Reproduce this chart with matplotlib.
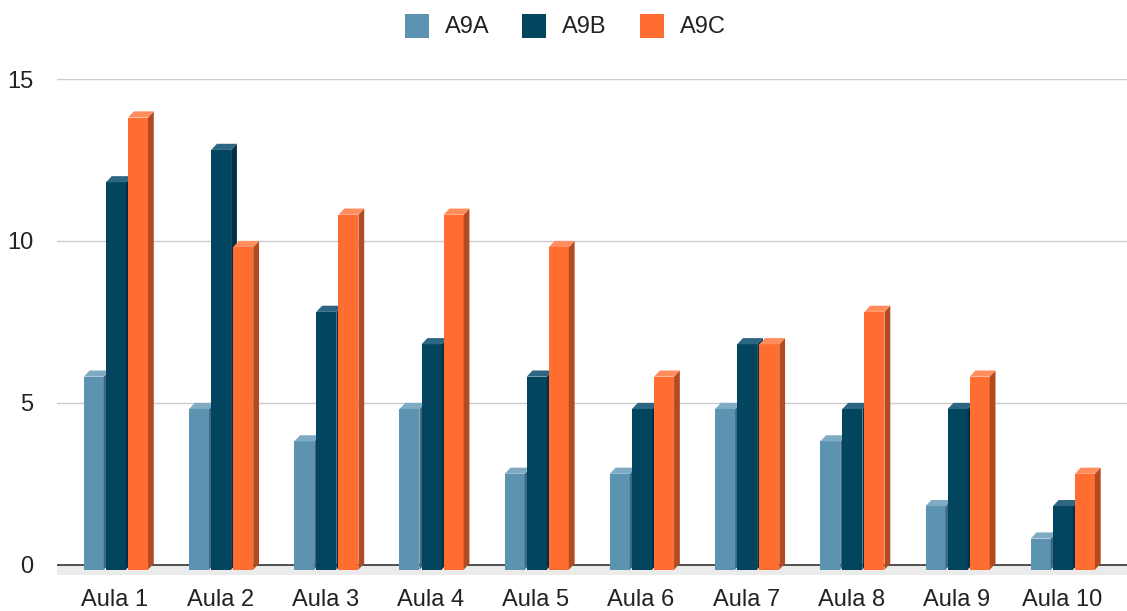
import matplotlib.pyplot as plt
from matplotlib.patches import Polygon, Rectangle

categories = ['Aula 1', 'Aula 2', 'Aula 3', 'Aula 4', 'Aula 5',
              'Aula 6', 'Aula 7', 'Aula 8', 'Aula 9', 'Aula 10']
a9a = [6, 5, 4, 5, 3, 3, 5, 4, 2, 1]
a9b = [12, 13, 8, 7, 6, 5, 7, 5, 5, 2]
a9c = [14, 10, 11, 11, 10, 6, 7, 8, 6, 3]
series_names = ['A9A', 'A9B', 'A9C']
y_ticks = [0, 5, 10, 15]

# front, side, top colours for each series
colors = {
    'A9A': ('#5b93b1', '#3e6880', '#7eaac3'),
    'A9B': ('#03445f', '#022f43', '#2c6682'),
    'A9C': ('#ff6d31', '#b34b21', '#ff8d5e'),
}

W = 0.19        # bar front width (category units)
DX = 0.055      # 3d depth in x
DY = 0.19       # 3d depth in y
BOT = -0.15     # bottom of front faces
OFFS = [-0.295, -0.085, 0.125]


def draw_bar(ax, left, value, cols):
    front, side, top = cols
    right = left + W
    ftop = value - DY
    ax.add_patch(Rectangle((left, BOT), W, ftop - BOT, facecolor=front,
                           edgecolor='none', zorder=3))
    ax.add_patch(Polygon([(right, BOT), (right, ftop), (right + DX, value),
                          (right + DX, BOT + DY)], closed=True,
                         facecolor=side, edgecolor='none', zorder=3))
    ax.add_patch(Polygon([(left, ftop), (right, ftop), (right + DX, value),
                          (left + DX, value)], closed=True,
                         facecolor=top, edgecolor='none', zorder=3))


def main():
    plt.rcParams['font.family'] = ['Liberation Sans', 'DejaVu Sans']
    fig = plt.figure(figsize=(11.27, 6.11), dpi=100)
    ax = fig.add_axes([57 / 1127, 30 / 611, 1 - 57 / 1127, (581 - 79) / 611])
    ax.set_xlim(-0.55, 9.62)
    ax.set_ylim(-0.5, 15)

    # grid and floor
    for t in y_ticks[1:]:
        ax.axhline(t, color='#cccccc', linewidth=1, zorder=1)
    ax.add_patch(Polygon([(-0.55, 0), (9.62, 0), (9.62, -0.33), (-0.65, -0.33)],
                         closed=True, facecolor='#ebebeb', edgecolor='none',
                         zorder=1))
    ax.axhline(0, color='#333333', linewidth=1.2, zorder=2)

    data = [a9a, a9b, a9c]
    for i in range(len(categories)):
        for s, name in enumerate(series_names):
            draw_bar(ax, i + OFFS[s], data[s][i], colors[name])

    ax.set_xticks(range(len(categories)))
    ax.set_xticklabels(categories, fontsize=17, color='#222222')
    ax.set_yticks(y_ticks)
    ax.set_yticklabels([str(t) for t in y_ticks], fontsize=17, color='#222222')
    ax.tick_params(axis='both', length=0)
    ax.tick_params(axis='x', pad=6)
    ax.tick_params(axis='y', pad=17)
    for sp in ax.spines.values():
        sp.set_visible(False)

    # legend drawn by hand at the top
    sq_x = [405, 522, 640]
    for name, x in zip(series_names, sq_x):
        fig.patches.append(Rectangle((x / 1127, 1 - 38 / 611), 24 / 1127,
                                     24 / 611, transform=fig.transFigure,
                                     facecolor=colors[name][0],
                                     edgecolor='none'))
        fig.text((x + 40) / 1127, 1 - 27 / 611, name, fontsize=17,
                 color='#222222', va='center', ha='left')

    fig.savefig('out.png', dpi=100)


if __name__ == '__main__':
    main()
